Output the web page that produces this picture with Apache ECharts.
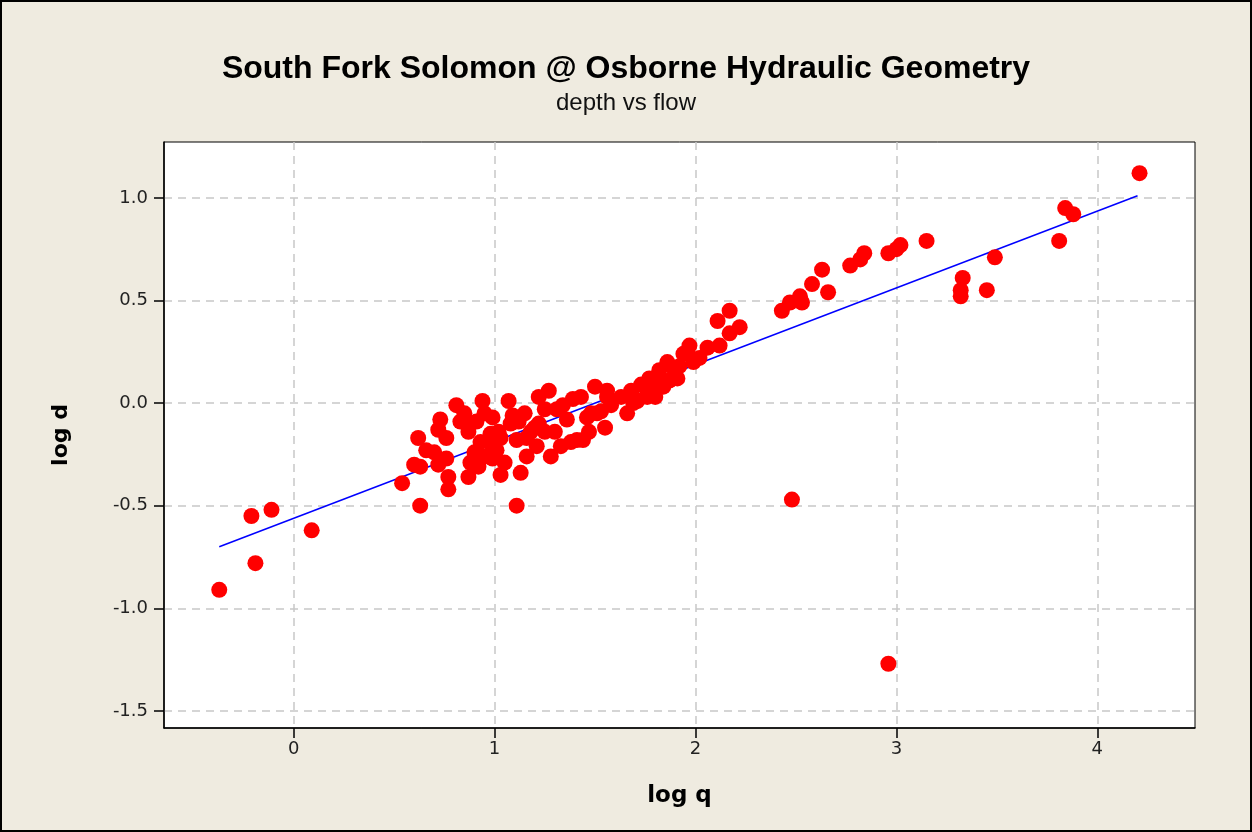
<!DOCTYPE html>
<html>
<head>
<meta charset="utf-8">
<title>South Fork Solomon @ Osborne Hydraulic Geometry</title>
<script src="https://cdn.jsdelivr.net/npm/echarts@6/dist/echarts.min.js"></script>
<style>
  html, body { margin: 0; padding: 0; background: #efebe0; }
  #chart { width: 1252px; height: 832px; box-sizing: border-box; border: 2px solid #000; }
</style>
</head>
<body>
<div id="chart"></div>
<script>
// log q of each observation (10 per line)
var logQ = [
  -0.37, -0.21, -0.11, -0.19, 0.09, 0.54, 0.63, 0.60, 0.62, 1.11,
  2.48, 2.96,
  0.66, 0.63, 0.70, 0.72, 0.73, 0.76, 0.76, 0.72, 0.77, 0.77,
  0.81, 0.85, 0.87, 0.85, 0.90, 0.88, 0.87, 0.92, 0.93, 0.95,
  0.94, 0.95, 0.99, 1.02, 0.99, 0.99, 1.05, 1.03, 1.07, 1.10,
  1.09, 1.15, 1.11, 1.16, 1.13, 1.18, 1.21, 1.22, 1.22, 1.25,
  1.27, 1.28, 1.30, 1.31, 1.34, 1.36, 1.38, 1.39, 1.43, 1.44,
  1.47, 1.46, 1.51, 1.50, 1.56, 1.55, 1.66, 1.69, 1.16, 1.20,
  1.03, 0.98, 1.08, 1.01, 1.25, 1.33, 1.41, 1.48, 1.53, 1.12,
  0.83, 0.91,
  1.56, 1.58, 1.63, 1.68, 1.71, 1.73, 1.76, 1.77, 1.79, 1.82,
  1.86, 1.87, 1.91, 1.94, 1.97, 1.99, 2.02, 2.06, 2.11, 2.17,
  2.22, 2.17, 2.12, 1.75, 1.81, 1.84, 1.89, 1.80, 1.92, 1.70,
  1.96,
  2.43, 2.47, 2.52, 2.53, 2.58, 2.66, 2.63, 2.77, 2.82, 2.84,
  2.96, 3.00, 3.02, 3.15, 3.33, 3.32, 3.32, 3.45, 3.49, 3.81,
  3.84, 3.88, 4.21
];
// log d, same order
var logD = [
  -0.91, -0.55, -0.52, -0.78, -0.62, -0.39, -0.50, -0.30, -0.17, -0.50,
  -0.47, -1.27,
  -0.23, -0.31, -0.24, -0.13, -0.08, -0.17, -0.27, -0.30, -0.36, -0.42,
  -0.01, -0.08, -0.14, -0.05, -0.24, -0.29, -0.36, -0.31, -0.19, -0.26,
  0.01, -0.05, -0.07, -0.14, -0.21, -0.27, -0.29, -0.35, 0.01, -0.09,
  -0.06, -0.05, -0.18, -0.26, -0.34, -0.14, -0.21, -0.10, 0.03, -0.03,
  0.06, -0.26, -0.14, -0.03, -0.01, -0.08, -0.19, 0.02, 0.03, -0.18,
  -0.14, -0.07, -0.05, 0.08, 0.03, -0.12, -0.05, 0.00, -0.17, -0.12,
  -0.17, -0.15, -0.10, -0.23, -0.14, -0.21, -0.18, -0.05, -0.04, -0.09,
  -0.09, -0.09,
  0.06, -0.01, 0.03, 0.06, 0.01, 0.09, 0.03, 0.12, 0.06, 0.16,
  0.20, 0.11, 0.12, 0.24, 0.28, 0.20, 0.22, 0.27, 0.40, 0.45,
  0.37, 0.34, 0.28, 0.08, 0.12, 0.08, 0.17, 0.03, 0.18, 0.02,
  0.24,
  0.45, 0.49, 0.52, 0.49, 0.58, 0.54, 0.65, 0.67, 0.70, 0.73,
  0.73, 0.75, 0.77, 0.79, 0.61, 0.55, 0.52, 0.55, 0.71, 0.79,
  0.95, 0.92, 1.12
];
// ends of the fitted line
var fitQ = [-0.37, 4.20];
var fitD = [-0.70, 1.01];

var xTicks = [0, 1, 2, 3, 4];
var yTicks = [-1.5, -1.0, -0.5, 0.0, 0.5, 1.0];

var points = logQ.map(function (q, i) { return [q, logD[i]]; });
var fitLine = fitQ.map(function (q, i) { return [q, fitD[i]]; });

var chart = echarts.init(document.getElementById('chart'));
chart.setOption({
  backgroundColor: '#efebe0',
  animation: false,
  title: {
    text: 'South Fork Solomon @ Osborne Hydraulic Geometry',
    subtext: 'depth vs flow',
    left: 'center',
    top: 46,
    itemGap: 6,
    textStyle: { fontFamily: 'Liberation Sans', fontSize: 32, fontWeight: 'bold', color: '#000' },
    subtextStyle: { fontFamily: 'Liberation Sans', fontSize: 24, color: '#111' }
  },
  grid: {
    left: 162, top: 140, right: 55, bottom: 102,
    show: true,
    backgroundColor: '#fff',
    borderColor: '#000',
    borderWidth: 1
  },
  xAxis: {
    type: 'value',
    min: -0.645,
    max: 4.486,
    name: 'log q',
    nameLocation: 'middle',
    nameGap: 57,
    nameTextStyle: { fontFamily: 'DejaVu Sans', fontSize: 23, fontWeight: 'bold', color: '#000' },
    axisLine: { show: true, onZero: false, lineStyle: { color: '#000', width: 1.5 } },
    axisTick: { show: true, inside: false, length: 10, customValues: xTicks, lineStyle: { color: '#000', width: 1.5 } },
    axisLabel: {
      customValues: xTicks,
      margin: 12,
      fontFamily: 'DejaVu Sans', fontSize: 18, color: '#222'
    },
    splitLine: { show: true, lineStyle: { color: '#c8c8c8', type: [8, 6], width: 1.5 } }
  },
  yAxis: {
    type: 'value',
    min: -1.583,
    max: 1.272,
    name: 'log d',
    nameLocation: 'middle',
    nameGap: 92,
    nameTextStyle: { fontFamily: 'DejaVu Sans', fontSize: 22, fontWeight: 'bold', color: '#000' },
    axisLine: { show: true, onZero: false, lineStyle: { color: '#000', width: 1.5 } },
    axisTick: { show: true, inside: false, length: 10, customValues: yTicks, lineStyle: { color: '#000', width: 1.5 } },
    axisLabel: {
      customValues: yTicks,
      margin: 16,
      fontFamily: 'DejaVu Sans', fontSize: 18, color: '#222',
      formatter: function (v) { return v.toFixed(1); }
    },
    splitLine: { show: true, lineStyle: { color: '#c8c8c8', type: [8, 6], width: 1.5 } }
  },
  series: [
    {
      name: 'fit',
      type: 'line',
      data: fitLine,
      symbol: 'none',
      lineStyle: { color: '#0000ff', width: 1.5 },
      z: 2
    },
    {
      name: 'observations',
      type: 'scatter',
      data: points,
      symbol: 'circle',
      symbolSize: 16,
      itemStyle: { color: '#ff0000', opacity: 1 },
      z: 3
    }
  ]
});
</script>
</body>
</html>
